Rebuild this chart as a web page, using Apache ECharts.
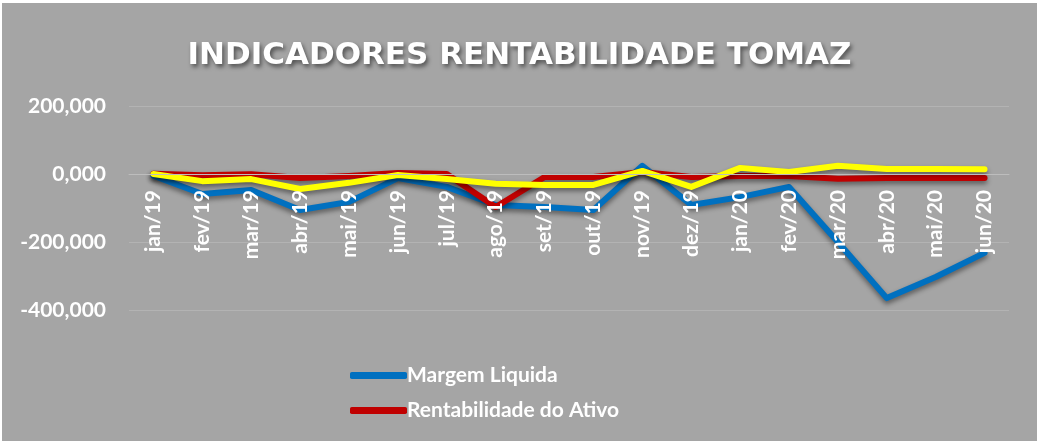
<!DOCTYPE html>
<html>
<head>
<meta charset="utf-8">
<script src="https://cdn.jsdelivr.net/npm/echarts@6/dist/echarts.min.js"></script>
<style>
  html, body { margin: 0; padding: 0; background: #ffffff; }
  #chart { position: absolute; left: 2px; top: 3px; width: 1035px; height: 438px; background: #a5a5a5; }
</style>
</head>
<body>
<div id="chart"></div>
<script>
const months = ['jan/19', 'fev/19', 'mar/19', 'abr/19', 'mai/19', 'jun/19', 'jul/19', 'ago/19', 'set/19',
  'out/19', 'nov/19', 'dez/19', 'jan/20', 'fev/20', 'mar/20', 'abr/20', 'mai/20', 'jun/20']

// valores
const margemLiquida = [-5000, -59000, -47000, -106000, -82000, -12000, -38000, -91000, -97000,
  -106000, 24000, -91000, -68000, -38000, -200000, -365000, -303000, -232000]
const rentabilidadeAtivo = [1000, -4000, -1000, -12000, -6000, 3000, 0, -97000, -9000,
  -9000, 6000, -9000, -6000, -6000, -14000, -12000, -12000, -12000]
const terceiroIndicador = [0, -21000, -15000, -44000, -26000, -3000, -15000, -29000, -32000,
  -32000, 9000, -38000, 18000, 6000, 24000, 15000, 15000, 14000]

const yTicks = { min: -400000, max: 200000, interval: 200000 }

const fontFamily = 'Lato, "Open Sans", sans-serif'

const chart = echarts.init(document.getElementById('chart'))

function lineSerie(name, data, color) {
  return {
    name: name,
    type: 'line',
    data: data,
    symbol: 'none',
    z: 2,
    lineStyle: {
      width: 6,
      color: color,
      cap: 'round',
      join: 'round',
      shadowColor: 'rgba(0, 0, 0, 0.45)',
      shadowBlur: 5,
      shadowOffsetY: 3
    },
    itemStyle: { color: color },
    animation: false
  }
}

chart.setOption({
  backgroundColor: '#a5a5a5',
  title: {
    text: 'INDICADORES RENTABILIDADE TOMAZ',
    left: 'center',
    top: 32,
    textStyle: {
      color: '#ffffff',
      fontFamily: '"DejaVu Sans", sans-serif',
      fontSize: 31,
      fontWeight: 'bold',
      textShadowColor: 'rgba(0, 0, 0, 0.5)',
      textShadowBlur: 4,
      textShadowOffsetX: 2,
      textShadowOffsetY: 3
    }
  },
  legend: {
    orient: 'vertical',
    left: 343,
    top: 357,
    icon: 'roundRect',
    itemWidth: 57,
    itemHeight: 7,
    itemGap: 14,
    data: ['Margem Liquida', 'Rentabilidade do Ativo'],
    textStyle: {
      color: '#ffffff',
      fontFamily: fontFamily,
      fontSize: 21,
      fontWeight: 'bold',
      padding: [0, 0, 0, -5]
    }
  },
  grid: {
    left: 127,
    right: 28,
    top: 103,
    bottom: 131
  },
  xAxis: {
    type: 'category',
    data: months,
    boundaryGap: true,
    offset: -136,
    z: 5,
    axisLine: { onZero: false, lineStyle: { color: '#bdbdbd', width: 1 } },
    axisTick: { show: false },
    axisLabel: {
      rotate: 90,
      interval: 0,
      margin: 16,
      color: '#ffffff',
      fontFamily: fontFamily,
      fontSize: 21,
      fontWeight: 'bold'
    }
  },
  yAxis: {
    type: 'value',
    min: yTicks.min,
    max: yTicks.max,
    interval: yTicks.interval,
    axisLine: { show: false },
    axisTick: { show: false },
    splitLine: { lineStyle: { color: '#b3b3b3', width: 1 } },
    axisLabel: {
      margin: 23,
      color: '#ffffff',
      fontFamily: fontFamily,
      fontSize: 21,
      fontWeight: 'bold',
      formatter: function (v) {
        return (v / 1000).toFixed(3).replace('.', ',')
      }
    }
  },
  series: [
    lineSerie('Margem Liquida', margemLiquida, '#0070c0'),
    lineSerie('Rentabilidade do Ativo', rentabilidadeAtivo, '#c00000'),
    lineSerie('Rentabilidade do PL', terceiroIndicador, '#ffff00')
  ]
})
</script>
</body>
</html>
